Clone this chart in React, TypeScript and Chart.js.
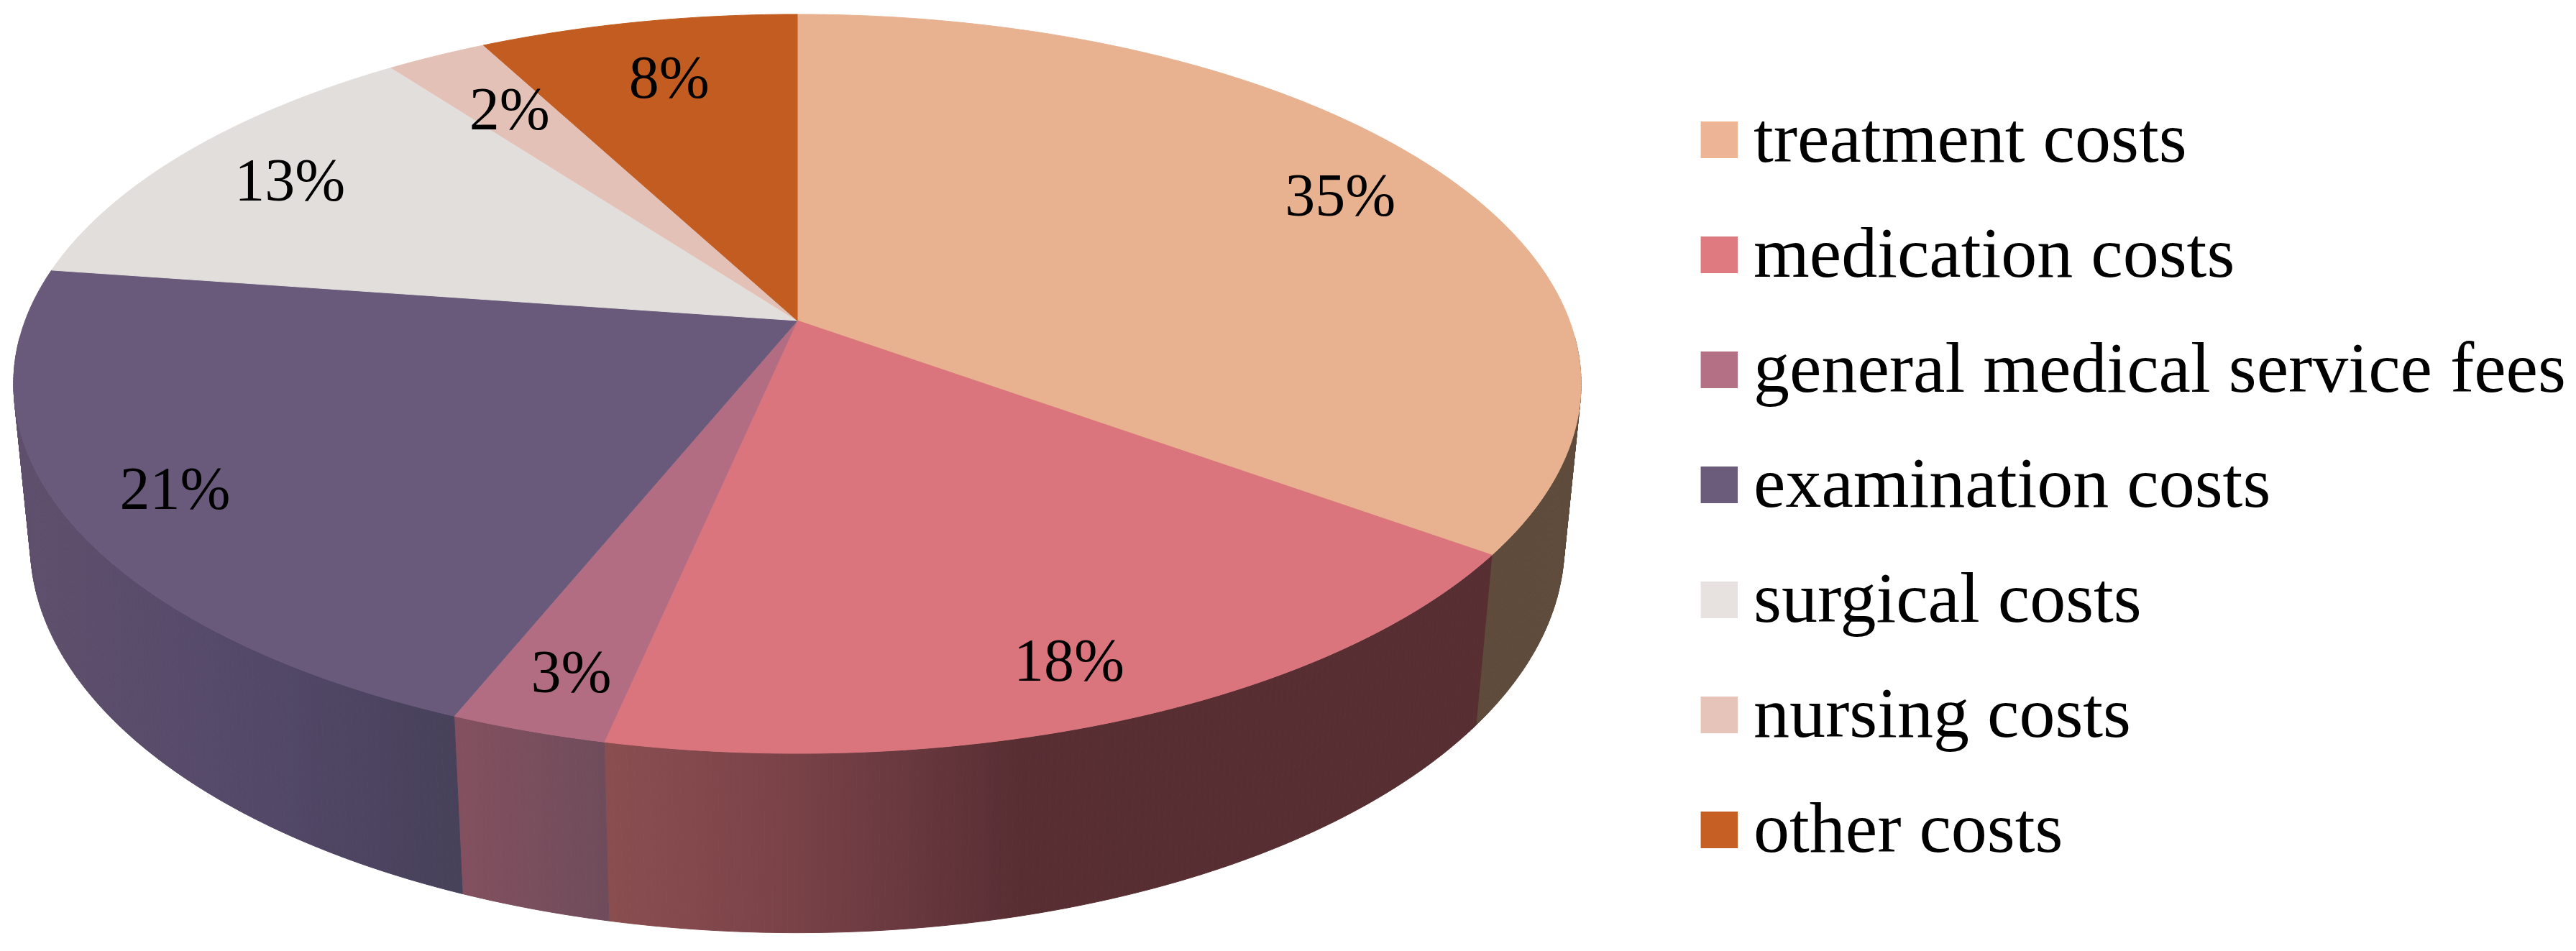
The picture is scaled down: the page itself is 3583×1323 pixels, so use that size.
import React, { useEffect, useRef } from "react";
import { Chart, ArcElement, PieController, Legend } from "chart.js";

const categories = [
  "treatment costs",
  "medication costs",
  "general medical service fees",
  "examination costs",
  "surgical costs",
  "nursing costs",
  "other costs",
];
const shares = [35, 18.34, 2.76, 21.2, 12.5, 2.45, 7.75];

const topColors = ["#E8B291", "#DB757D", "#B26D83", "#695A7C", "#E2DEDC", "#E3C1B6", "#C25C20"];
const legendColors = ["#EDB595", "#DF7A80", "#B47085", "#6B5C7C", "#E7E2DF", "#E6C4B9", "#C55F23"];
const wallStops: [number, string][][] = [
  [[2053, "#5E4B3B"], [2200, "#5E4B3B"]],
  [[840, "#8A4E50"], [1070, "#7C4449"], [1220, "#6C3B41"], [1420, "#582E33"], [2060, "#572E32"]],
  [[631, "#84505F"], [845, "#6F4C5B"]],
  [[30, "#5E506C"], [330, "#55496A"], [631, "#47415A"]],
  [[72, "#777777"], [547, "#777777"]],
  [[547, "#888888"], [673, "#888888"]],
  [[673, "#775533"], [1109, "#775533"]],
];
const labelRadius = [0.83, 0.88, 0.877, 0.863, 0.826, 0.78, 0.778];
const labelNudgeX = [9, -16, 7, 2, 5, 2, 0];
const labelNudgeY = [9, 2, 6, 8, 8, 8, 2];

const CX = 1109, CY = 446, A = 1074, B = 499, PERSP = 0.1712, DEPTH_W = 0.0211, DEPTH_Y = 224.8;
const SWATCH = 51, SWATCH_SHIFT_X = 2, SWATCH_SHIFT_Y = 4;

function project(a: number, r: number, h: number) {
  const u = Math.cos(a) * r, v = Math.sin(a) * r;
  const w = 1 - PERSP * v + DEPTH_W * h;
  return { x: CX + (A * u) / w, y: CY + (B * v + DEPTH_Y * h) / w };
}

class PerspectiveArc extends ArcElement {
  static id = "perspectiveArc";
  rim(h: number) {
    const { startAngle, endAngle } = (this as any).getProps(["startAngle", "endAngle"], true);
    const n = Math.max(8, Math.ceil((endAngle - startAngle) * 120));
    const pts = [];
    for (let i = 0; i <= n; i++) {
      const a = startAngle + ((endAngle - startAngle) * i) / n;
      pts.push({ ...project(a, 1, h), front: Math.sin(a) > 0.05 });
    }
    return pts;
  }
  drawWall(ctx: CanvasRenderingContext2D, stops: [number, string][]) {
    const top = this.rim(0), low = this.rim(1);
    const x0 = stops[0][0], x1 = stops[stops.length - 1][0];
    const g = ctx.createLinearGradient(x0, 0, x1, 0);
    stops.forEach(([x, c]) => g.addColorStop((x - x0) / (x1 - x0), c));
    ctx.fillStyle = g;
    ctx.strokeStyle = g;
    ctx.lineWidth = 1;
    for (let i = 0; i < top.length - 1; i++) {
      if (!top[i].front && !top[i + 1].front) continue;
      ctx.beginPath();
      ctx.moveTo(top[i].x, top[i].y);
      ctx.lineTo(top[i + 1].x, top[i + 1].y);
      ctx.lineTo(low[i + 1].x, low[i + 1].y);
      ctx.lineTo(low[i].x, low[i].y);
      ctx.closePath();
      ctx.fill();
      ctx.stroke();
    }
  }
  draw(ctx: CanvasRenderingContext2D) {
    const color = (this as any).options.backgroundColor;
    ctx.beginPath();
    ctx.moveTo(CX, CY);
    this.rim(0).forEach((p) => ctx.lineTo(p.x, p.y));
    ctx.closePath();
    ctx.fillStyle = color;
    ctx.strokeStyle = color;
    ctx.lineWidth = 1;
    ctx.fill();
    ctx.stroke();
  }
}

class PerspectivePie extends PieController {
  static id = "perspectivePie";
  static defaults = { dataElementType: "perspectiveArc" };
  draw() {
    const ctx = this.chart.ctx;
    const arcs = this.getMeta().data as any[];
    ctx.save();
    arcs.forEach((arc, i) => arc.drawWall(ctx, wallStops[i]));
    arcs.forEach((arc) => arc.draw(ctx));
    ctx.fillStyle = "#000";
    ctx.font = '84px "Liberation Serif"';
    ctx.textAlign = "center";
    ctx.textBaseline = "middle";
    arcs.forEach((arc, i) => {
      const p = project((arc.startAngle + arc.endAngle) / 2, labelRadius[i], 0);
      ctx.fillText(`${Math.round(shares[i])}%`, p.x + labelNudgeX[i], p.y + labelNudgeY[i]);
    });
    ctx.restore();
  }
}

Chart.register(PerspectiveArc as any, PerspectivePie as any, Legend);

function swatch(color: string) {
  const c = document.createElement("canvas");
  c.width = SWATCH + 2 * SWATCH_SHIFT_X;
  c.height = SWATCH + 2 * SWATCH_SHIFT_Y;
  const g = c.getContext("2d")!;
  g.fillStyle = color;
  g.fillRect(2 * SWATCH_SHIFT_X, 0, SWATCH, SWATCH);
  return c;
}

const placeLegend = {
  id: "placeLegend",
  afterLayout(chart: any) {
    const l = chart.legend;
    const w = l.right - l.left, h = l.bottom - l.top;
    l.left = 2329;
    l.right = l.left + w;
    l.top = 88.5;
    l.bottom = l.top + h;
  },
};

export default function App() {
  const ref = useRef<HTMLCanvasElement>(null);
  useEffect(() => {
    const chart = new Chart(ref.current!, {
      type: "perspectivePie" as any,
      data: {
        labels: categories,
        datasets: [{ data: shares, backgroundColor: topColors, borderWidth: 0 }],
      },
      options: {
        animation: false,
        responsive: false,
        events: [],
        plugins: {
          legend: {
            position: "right",
            align: "start",
            labels: {
              usePointStyle: true,
              boxWidth: 0.01,
              boxHeight: 51,
              padding: 60,
              color: "#000",
              font: { family: "Liberation Serif", size: 100 },
              generateLabels: () =>
                categories.map((text, i) => ({
                  text,
                  fillStyle: legendColors[i],
                  strokeStyle: legendColors[i],
                  lineWidth: 0,
                  pointStyle: swatch(legendColors[i]),
                  index: i,
                })),
            },
          },
        },
      } as any,
      plugins: [placeLegend],
    });
    return () => chart.destroy();
  }, []);
  return (
    <div style={{ position: "absolute", left: 0, top: 0, width: 3583, height: 1323, background: "#fff" }}>
      <canvas ref={ref} width={3583} height={1323} style={{ display: "block" }} />
    </div>
  );
}
